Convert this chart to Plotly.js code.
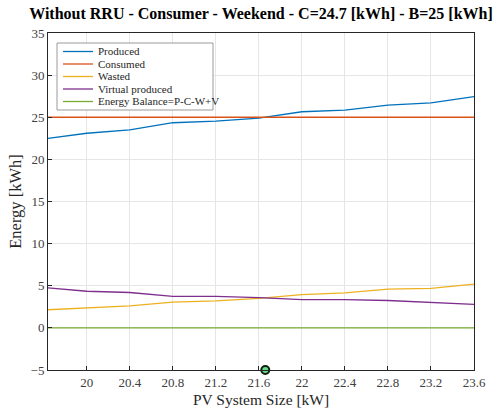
<!DOCTYPE html>
<html>
<head>
<meta charset="utf-8">
<script src="https://cdn.plot.ly/plotly-3.0.1.min.js"></script>
<style>html,body{margin:0;padding:0;background:#fff;}#chart{width:503px;height:414px;}</style>
</head>
<body>
<div id="chart"></div>
<script>
const pvSize = [19.64, 20.0, 20.4, 20.8, 21.2, 21.6, 22.0, 22.4, 22.8, 23.2, 23.6];
const produced = [22.5, 23.1, 23.5, 24.35, 24.55, 24.9, 25.65, 25.85, 26.45, 26.7, 27.45];
const consumed = [25, 25, 25, 25, 25, 25, 25, 25, 25, 25, 25];
const wasted = [2.15, 2.4, 2.6, 3.05, 3.2, 3.5, 3.95, 4.15, 4.6, 4.7, 5.2];
const virtualProduced = [4.75, 4.35, 4.2, 3.75, 3.75, 3.6, 3.35, 3.35, 3.25, 3.05, 2.8];
const balance = [0, 0, 0, 0, 0, 0, 0, 0, 0, 0, 0];
const markerX = [21.66];
const markerY = [-5];
const seriesNames = ['Produced', 'Consumed', 'Wasted', 'Virtual produced', 'Energy Balance=P-C-W+V'];
const seriesColors = ['#0072BD', '#D95319', '#EDB120', '#7E2F8E', '#77AC30'];
const xTicks = [20, 20.4, 20.8, 21.2, 21.6, 22, 22.4, 22.8, 23.2, 23.6];
const xTickText = ['20', '20.4', '20.8', '21.2', '21.6', '22', '22.4', '22.8', '23.2', '23.6'];
const yTicks = [-5, 0, 5, 10, 15, 20, 25, 30, 35];

const W = 503, H = 414, M = {l: 48, r: 29, t: 33, b: 44};
const pw = W - M.l - M.r, ph = H - M.t - M.b;
const px = v => (v - M.l) / pw;
const py = v => (H - M.b - v) / ph;

const font = 'Liberation Serif, DejaVu Serif, serif';
const seriesY = [produced, consumed, wasted, virtualProduced, balance];
const traces = seriesY.map((y, i) => ({x: pvSize, y: y, name: seriesNames[i], type: 'scatter',
  mode: 'lines', line: {color: seriesColors[i], width: 1.3}, showlegend: false}));
traces.push({x: markerX, y: markerY, type: 'scatter', mode: 'markers', showlegend: false, cliponaxis: false,
  marker: {size: 8, color: '#66dd88', line: {color: '#102010', width: 2}}});

// legend drawn as a box with samples (MATLAB-like compact legend)
const shapes = [{type: 'rect', xref: 'paper', yref: 'paper', x0: px(57), x1: px(213), y0: py(110), y1: py(43),
  fillcolor: '#ffffff', line: {color: '#9a9a9a', width: 1}, layer: 'above'}];
const annotations = [];
const rowY = [51.5, 64, 76.5, 89, 101.5];
seriesNames.forEach((n, i) => {
  shapes.push({type: 'line', xref: 'paper', yref: 'paper', x0: px(63), x1: px(93), y0: py(rowY[i]), y1: py(rowY[i]),
    line: {color: seriesColors[i], width: 1.3}, layer: 'above'});
  annotations.push({text: n, xref: 'paper', yref: 'paper', x: px(96), y: py(rowY[i]), xanchor: 'left',
    yanchor: 'middle', showarrow: false, font: {family: font, size: 11, color: '#262626'}});
});

const axisCommon = {showline: true, linecolor: '#262626', linewidth: 1, mirror: true,
  ticks: 'inside', ticklen: 4, tickcolor: '#262626', showgrid: true, gridcolor: '#e6e6e6',
  zeroline: false, tickfont: {family: font, size: 13, color: '#404040'}};
const layout = {
  width: W, height: H, margin: M,
  paper_bgcolor: '#fff', plot_bgcolor: '#fff',
  title: {text: '<b>Without RRU - Consumer - Weekend - C=24.7 [kWh] - B=25 [kWh]</b>',
    font: {family: font, size: 16, color: '#000'}, x: 0.5, xref: 'paper',
    y: 1 - 13 / H, yref: 'container', yanchor: 'middle'},
  xaxis: Object.assign({}, axisCommon, {range: [19.64, 23.6], tickvals: xTicks, ticktext: xTickText,
    title: {text: 'PV System Size [kW]', font: {family: font, size: 15.5, color: '#262626'}, standoff: 5}}),
  yaxis: Object.assign({}, axisCommon, {range: [-5, 35], tickvals: yTicks,
    title: {text: 'Energy [kWh]', font: {family: font, size: 16.5, color: '#262626'}, standoff: 4}}),
  shapes: shapes, annotations: annotations,
  showlegend: false
};
Plotly.newPlot('chart', traces, layout, {displayModeBar: false, staticPlot: true});
</script>
</body>
</html>
